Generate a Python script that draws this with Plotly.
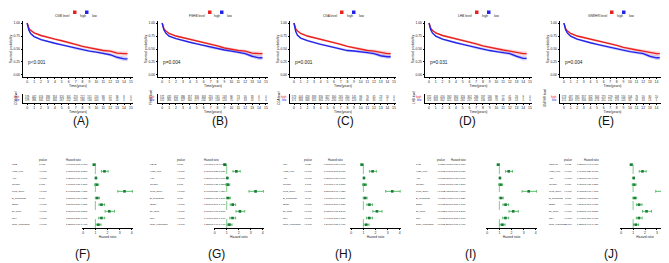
import plotly.graph_objects as go

W, H = 669, 263
def fx(p): return p / W
def fy(p): return 1 - p / H

FONT = "Liberation Sans"
RED, BLUE, GREEN, DGREEN = "#E8211F", "#2424E8", "#49B85A", "#1B7A3A"

# ---------------- data ----------------
genes = ["CGB", "FSHB", "CGA", "LHB", "GNRHR"]
km_pvals = ["p<0.001", "p=0.004", "p=0.001", "p=0.031", "p=0.004"]
panel_top = ["(A)", "(B)", "(C)", "(D)", "(E)"]
panel_bot = ["(F)", "(G)", "(H)", "(I)", "(J)"]

times = [0, 0.25, 0.5, 1, 2, 3, 4, 5, 6, 7, 8, 9, 10, 11, 12, 13, 14, 14.5]
ci_half = [0, 0.01, 0.014, 0.017, 0.019, 0.02, 0.021, 0.022, 0.022, 0.023, 0.024, 0.025, 0.026, 0.028, 0.03, 0.035, 0.04, 0.04]

surv_high_A = [1.0, 0.90, 0.86, 0.81, 0.76, 0.72, 0.69, 0.66, 0.63, 0.59, 0.55, 0.52, 0.49, 0.47, 0.46, 0.42, 0.41, 0.41]
surv_low_A  = [1.0, 0.86, 0.80, 0.74, 0.68, 0.64, 0.61, 0.58, 0.55, 0.51, 0.48, 0.46, 0.44, 0.42, 0.39, 0.34, 0.31, 0.31]
surv_high_B = [1.0, 0.89, 0.85, 0.80, 0.75, 0.72, 0.69, 0.66, 0.63, 0.60, 0.56, 0.52, 0.49, 0.47, 0.46, 0.42, 0.41, 0.41]
surv_low_B  = [1.0, 0.87, 0.81, 0.75, 0.70, 0.66, 0.63, 0.60, 0.57, 0.53, 0.50, 0.48, 0.46, 0.44, 0.41, 0.36, 0.33, 0.33]
surv_high_C = [1.0, 0.89, 0.85, 0.80, 0.75, 0.72, 0.69, 0.66, 0.63, 0.59, 0.55, 0.52, 0.49, 0.47, 0.46, 0.43, 0.41, 0.41]
surv_low_C  = [1.0, 0.84, 0.77, 0.71, 0.66, 0.62, 0.59, 0.56, 0.53, 0.50, 0.47, 0.46, 0.45, 0.43, 0.41, 0.37, 0.35, 0.35]
surv_high_D = [1.0, 0.90, 0.86, 0.81, 0.76, 0.73, 0.70, 0.67, 0.64, 0.60, 0.56, 0.53, 0.50, 0.48, 0.46, 0.43, 0.41, 0.41]
surv_low_D  = [1.0, 0.87, 0.81, 0.75, 0.69, 0.65, 0.62, 0.59, 0.56, 0.52, 0.49, 0.47, 0.45, 0.43, 0.41, 0.36, 0.32, 0.32]
surv_high_E = [1.0, 0.89, 0.85, 0.80, 0.75, 0.72, 0.69, 0.66, 0.64, 0.61, 0.57, 0.53, 0.50, 0.48, 0.46, 0.43, 0.41, 0.41]
surv_low_E  = [1.0, 0.87, 0.81, 0.75, 0.69, 0.65, 0.62, 0.59, 0.56, 0.53, 0.50, 0.47, 0.45, 0.43, 0.41, 0.36, 0.33, 0.33]

risk_years = list(range(16))
risk_high_A = [579, 442, 416, 393, 354, 320, 301, 274, 212, 151, 110, 86, 52, 36, 8, 0]
risk_low_A  = [579, 396, 345, 322, 300, 267, 252, 220, 186, 130, 100, 78, 50, 24, 5, 0]
risk_high_B = [572, 432, 402, 386, 357, 330, 303, 255, 191, 143, 96, 73, 50, 33, 6, 0]
risk_low_B  = [572, 395, 345, 327, 302, 277, 232, 197, 158, 120, 75, 57, 33, 13, 5, 0]
risk_high_C = [573, 444, 418, 393, 356, 327, 300, 265, 200, 145, 96, 70, 45, 23, 10, 0]
risk_low_C  = [571, 384, 348, 325, 305, 275, 250, 210, 170, 120, 85, 60, 35, 15, 5, 0]
risk_high_D = [572, 434, 416, 392, 364, 326, 302, 266, 197, 146, 99, 77, 41, 26, 9, 0]
risk_low_D  = [572, 394, 352, 321, 303, 282, 257, 205, 156, 108, 73, 49, 28, 13, 5, 0]
risk_high_E = [573, 437, 391, 357, 322, 304, 275, 229, 208, 150, 106, 76, 50, 30, 10, 0]
risk_low_E  = [571, 403, 372, 334, 303, 274, 251, 211, 176, 125, 85, 56, 33, 13, 5, 0]

forest_vars = ["Histo_type", "Age", "Gender", "Prog_score", "B_symptoms", "Stage", "Ex_sites", "LDH", "Num_extranodal"]

hr_F = [0.90, 1.75, 1.05, 1.10, 3.40, 1.15, 1.50, 2.15, 1.50, 1.25]
lo_F = [0.80, 1.50, 1.01, 0.95, 2.85, 1.00, 1.30, 1.80, 1.28, 1.06]
hi_F = [1.00, 2.05, 1.09, 1.27, 4.05, 1.33, 1.75, 2.58, 1.77, 1.47]
hr_G = [0.84, 1.80, 1.05, 1.08, 3.40, 1.12, 1.50, 2.10, 1.48, 1.22]
lo_G = [0.74, 1.52, 1.01, 0.93, 2.85, 0.98, 1.29, 1.77, 1.26, 1.04]
hi_G = [0.96, 2.12, 1.09, 1.25, 4.05, 1.29, 1.74, 2.50, 1.74, 1.44]
hr_H = [0.88, 1.76, 1.05, 1.09, 3.38, 1.14, 1.50, 2.12, 1.49, 1.24]
lo_H = [0.78, 1.50, 1.01, 0.94, 2.84, 0.99, 1.29, 1.78, 1.27, 1.05]
hi_H = [0.99, 2.07, 1.09, 1.26, 4.03, 1.31, 1.75, 2.54, 1.75, 1.46]
hr_I = [0.91, 1.77, 1.05, 1.10, 3.42, 1.14, 1.51, 2.14, 1.50, 1.25]
lo_I = [0.81, 1.51, 1.01, 0.95, 2.87, 0.99, 1.30, 1.79, 1.28, 1.06]
hi_I = [1.01, 2.08, 1.09, 1.27, 4.07, 1.32, 1.76, 2.56, 1.77, 1.47]
hr_J = [0.85, 1.79, 1.05, 1.08, 3.45, 1.13, 1.50, 2.13, 1.49, 1.23]
lo_J = [0.74, 1.52, 1.01, 0.93, 2.90, 0.98, 1.29, 1.79, 1.27, 1.04]
hi_J = [0.97, 2.10, 1.09, 1.25, 4.10, 1.30, 1.75, 2.55, 1.76, 1.45]

pv_F = ["0.002", "<0.001", "<0.001", "0.007", "<0.001", "0.069", "<0.001", "<0.001", "<0.001", "<0.001"]
pv_G = ["0.010", "<0.001", "<0.001", "0.007", "<0.001", "0.089", "<0.001", "<0.001", "<0.001", "<0.001"]
pv_H = ["0.029", "<0.001", "<0.001", "0.007", "<0.001", "0.079", "<0.001", "<0.001", "<0.001", "<0.001"]
pv_I = ["0.058", "<0.001", "<0.001", "0.007", "<0.001", "0.073", "<0.001", "<0.001", "<0.001", "<0.001"]
pv_J = ["0.012", "<0.001", "<0.001", "0.007", "<0.001", "0.086", "<0.001", "<0.001", "<0.001", "<0.001"]

surv_high = [surv_high_A, surv_high_B, surv_high_C, surv_high_D, surv_high_E]
surv_low = [surv_low_A, surv_low_B, surv_low_C, surv_low_D, surv_low_E]
risk_high = [risk_high_A, risk_high_B, risk_high_C, risk_high_D, risk_high_E]
risk_low = [risk_low_A, risk_low_B, risk_low_C, risk_low_D, risk_low_E]
hrs = [hr_F, hr_G, hr_H, hr_I, hr_J]
los = [lo_F, lo_G, lo_H, lo_I, lo_J]
his = [hi_F, hi_G, hi_H, hi_I, hi_J]
pvs = [pv_F, pv_G, pv_H, pv_I, pv_J]

# ---------------- layout geometry (pixels) ----------------
km_x = [(15, 125), (150, 260), (282, 388), (417, 524), (552, 657)]
km_y = (13, 69)
rt_y = (86, 94.5)
fp_x = [(74, 125), (205.5, 256), (342, 393), (478, 529), (612, 662)]
fp_y = (150, 220)
tbl_x = [2, 140, 273, 406, 539]
lab_top_x = [63, 202, 337, 470, 608]
lab_bot_x = [65, 198, 335, 470, 612]

fig = go.Figure()
layout = dict(width=W, height=H, margin=dict(l=0, r=0, t=0, b=0), autosize=False,
              paper_bgcolor="white", plot_bgcolor="white", showlegend=False,
              font=dict(family=FONT, size=4, color="#222"))
annotations, shapes = [], []

def ax_common(**kw):
    d = dict(showgrid=False, zeroline=False, automargin=False, showline=True,
             linecolor="black", linewidth=0.6, ticks="outside", ticklen=1.5,
             tickwidth=0.5, tickcolor="black", tickfont=dict(size=3.4, family=FONT))
    d.update(kw)
    return d

def band(s, h, sign):
    return [v + sign * c for v, c in zip(s, h)]

for i in range(5):
    n = 3 * i + 1
    xk, yk = f"x{n}", f"y{n}"
    xr, yr = f"x{n+1}", f"y{n+1}"
    xf, yf = f"x{n+2}", f"y{n+2}"
    x0, x1 = km_x[i]

    # ---- KM curves ----
    for s, col, fill in [(surv_high[i], RED, "rgba(240,120,120,0.35)"),
                         (surv_low[i], BLUE, "rgba(120,120,240,0.35)")]:
        up = band(s, ci_half, 1)
        dn = band(s, ci_half, -1)
        fig.add_trace(go.Scatter(x=times + times[::-1], y=up + dn[::-1], fill="toself",
                                 fillcolor=fill, line=dict(width=0), mode="lines",
                                 xaxis=xk, yaxis=yk, hoverinfo="skip"))
        fig.add_trace(go.Scatter(x=times, y=s, mode="lines", line=dict(color=col, width=1.4),
                                 xaxis=xk, yaxis=yk))
    layout["xaxis" + str(n)] = ax_common(domain=[fx(x0), fx(x1)], range=[-0.6, 15.3],
                                         tickvals=list(range(16)), anchor=yk,
                                         title=dict(text="Time(years)", font=dict(size=3.4), standoff=1))
    layout["yaxis" + str(n)] = ax_common(domain=[fy(km_y[1]), fy(km_y[0])], range=[-0.04, 1.04],
                                         tickvals=[0, 0.25, 0.5, 0.75, 1.0],
                                         ticktext=["0.00", "0.25", "0.50", "0.75", "1.00"], anchor=xk,
                                         title=dict(text="Survival probability", font=dict(size=3.4), standoff=1))
    annotations.append(dict(text=km_pvals[i], xref=xk, yref=yk, x=-0.1, y=0.23, xanchor="left",
                            showarrow=False, font=dict(size=4.8, color="#222")))
    # legend
    off = x0 - 15
    annotations.append(dict(text=f"{genes[i]} level", xref="paper", yref="paper", x=fx(off + 64),
                            y=fy(4.3), xanchor="right", showarrow=False, font=dict(size=3.2)))
    for bx, col, lab in [(off + 65, RED, "high"), (off + 77, BLUE, "low")]:
        shapes.append(dict(type="rect", xref="paper", yref="paper", x0=fx(bx), x1=fx(bx + 3.5),
                           y0=fy(6), y1=fy(2.5), fillcolor=col, line=dict(width=0)))
        annotations.append(dict(text=lab, xref="paper", yref="paper", x=fx(bx + 4.5), y=fy(4.3),
                                xanchor="left", showarrow=False, font=dict(size=3.2)))

    # ---- risk table ----
    fig.add_trace(go.Scatter(x=risk_years, y=[1] * 16, mode="text", text=[str(v) for v in risk_high[i]],
                             textfont=dict(size=2.6, color="#222"), xaxis=xr, yaxis=yr))
    fig.add_trace(go.Scatter(x=risk_years, y=[2] * 16, mode="text", text=[str(v) for v in risk_low[i]],
                             textfont=dict(size=2.6, color="#222"), xaxis=xr, yaxis=yr))
    layout["xaxis" + str(n + 1)] = ax_common(domain=[fx(x0), fx(x1)], range=[-0.6, 15.3],
                                             tickvals=list(range(16)), anchor=yr,
                                             title=dict(text="Time(years)", font=dict(size=3.4), standoff=1))
    layout["yaxis" + str(n + 1)] = ax_common(domain=[fy(rt_y[1]), fy(rt_y[0])], range=[2.83, 0],
                                             showticklabels=False, ticks="", anchor=xr)
    annotations.append(dict(text="high", xref="paper", yref=yr, x=fx(x0 - 1.5), y=1, xanchor="right",
                            showarrow=False, font=dict(size=2.8, color=RED)))
    annotations.append(dict(text="low", xref="paper", yref=yr, x=fx(x0 - 1.5), y=2, xanchor="right",
                            showarrow=False, font=dict(size=2.8, color=BLUE)))
    annotations.append(dict(text=f"{genes[i]} level", xref="paper", yref="paper", x=fx(x0 - 11),
                            y=fy(90), textangle=-90, showarrow=False, font=dict(size=3.0)))

    # ---- forest plot ----
    rows = list(range(1, 11))
    fig.add_trace(go.Scatter(x=hrs[i], y=rows, mode="markers",
                             marker=dict(symbol="square", size=2.6, color=DGREEN),
                             error_x=dict(type="data", symmetric=False,
                                          array=[h - m for h, m in zip(his[i], hrs[i])],
                                          arrayminus=[m - l for m, l in zip(hrs[i], los[i])],
                                          color=GREEN, thickness=0.9, width=1.3),
                             xaxis=xf, yaxis=yf))
    fx0, fx1 = fp_x[i]
    layout["xaxis" + str(n + 2)] = ax_common(domain=[fx(fx0), fx(fx1)], range=[-0.1, 4.1],
                                             tickvals=[0, 1, 2, 3, 4], anchor=yf,
                                             title=dict(text="Hazard ratio", font=dict(size=3.2), standoff=1))
    layout["yaxis" + str(n + 2)] = dict(domain=[fy(fp_y[1]), fy(fp_y[0])], range=[10.5, 0],
                                        visible=False, automargin=False, anchor=xf)
    shapes.append(dict(type="line", xref=xf, yref=yf + " domain", x0=1, x1=1, y0=0, y1=1,
                       line=dict(color=GREEN, width=0.7, dash="dash")))
    tx = tbl_x[i]
    names = [genes[i]] + forest_vars
    annotations.append(dict(text="pvalue", xref="paper", yref="paper", x=fx(tx + 27), y=fy(152),
                            showarrow=False, font=dict(size=2.7)))
    annotations.append(dict(text="Hazard ratio", xref="paper", yref="paper", x=fx(tx + 54), y=fy(152),
                            showarrow=False, font=dict(size=2.7)))
    for r, nm in enumerate(names):
        annotations.append(dict(text=nm, xref="paper", yref=yf, x=fx(tx), y=r + 1, xanchor="left",
                                showarrow=False, font=dict(size=2.4)))
        annotations.append(dict(text=pvs[i][r], xref="paper", yref=yf, x=fx(tx + 27), y=r + 1,
                                showarrow=False, font=dict(size=2.5)))
        annotations.append(dict(text=f"{hrs[i][r]:.4f}({los[i][r]:.3f}-{his[i][r]:.3f})",
                                xref="paper", yref=yf, x=fx(tx + 54), y=r + 1,
                                showarrow=False, font=dict(size=2.4)))

    # ---- panel labels ----
    annotations.append(dict(text=panel_top[i], xref="paper", yref="paper", x=fx(lab_top_x[i]),
                            y=fy(113), showarrow=False, font=dict(size=12, color="#111")))
    annotations.append(dict(text=panel_bot[i], xref="paper", yref="paper", x=fx(lab_bot_x[i]),
                            y=fy(255), showarrow=False, font=dict(size=12, color="#111")))

layout["annotations"] = annotations
layout["shapes"] = shapes
fig.update_layout(**layout)
fig.write_html("out.html")
